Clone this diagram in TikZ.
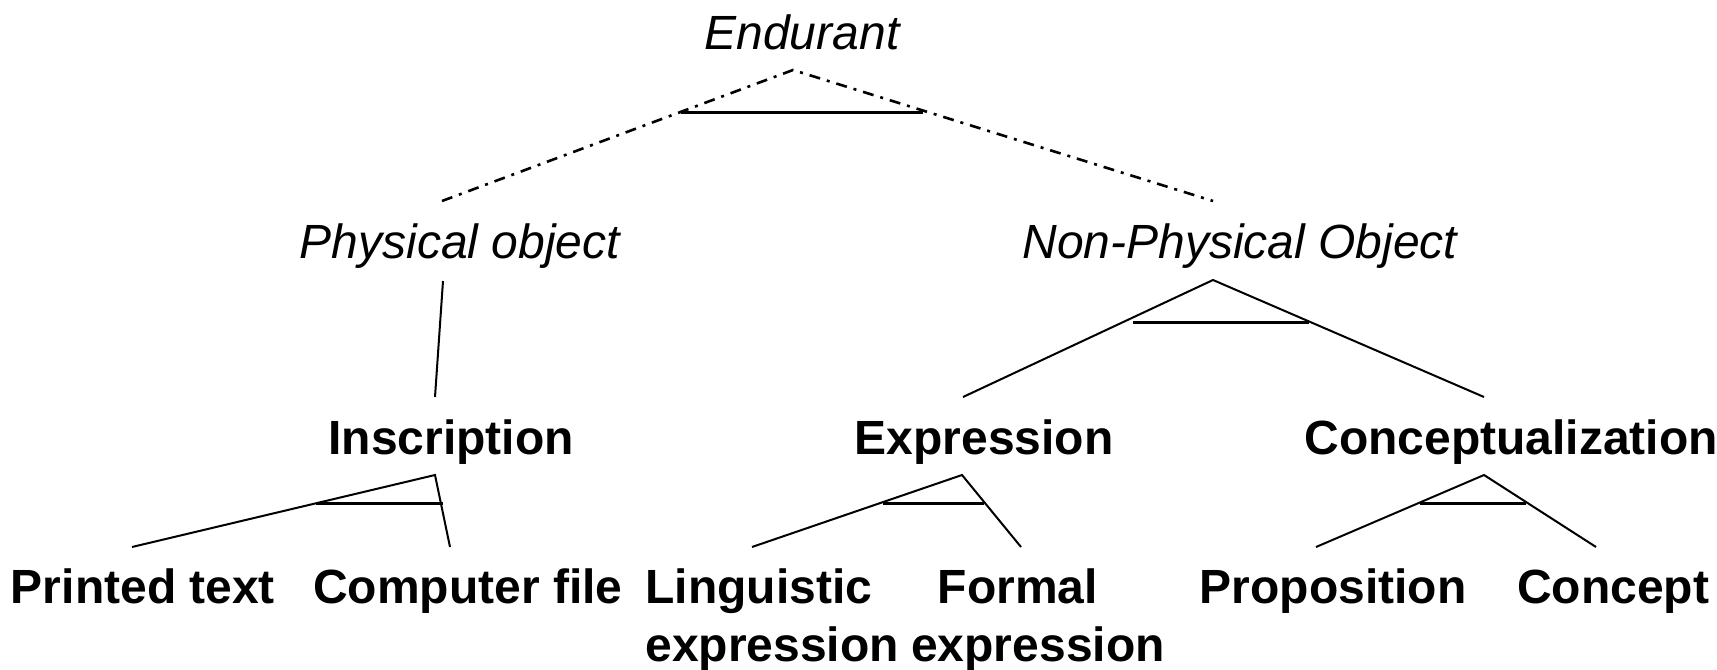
\documentclass[tikz,border=0pt]{standalone}
\usepackage{fontspec}
\setmainfont{Liberation Sans}
\begin{document}
\begin{tikzpicture}[x=0.5pt,y=-0.5pt,
  lbl/.style={inner sep=0pt, anchor=base},
  cls/.style={lbl, font=\fontsize{24}{29}\selectfont\itshape},
  sub/.style={lbl, font=\fontsize{24}{29}\selectfont\bfseries},
  link/.style={line width=1pt},
  dlink/.style={line width=1.3pt, dash pattern=on 5.5pt off 3.5pt on 1.5pt off 3.5pt},
  bar/.style={line width=1.5pt}]
\useasboundingbox (0,0) rectangle (1717,669);

% category labels
\node[cls] (endurant) at (802,49) {Endurant};
\node[cls] (physobj) at (460,258) {Physical object};
\node[cls] (nonphys) at (1240,258) {Non-Physical Object};

\node[sub] (inscr) at (451,454) {Inscription};
\node[sub] (expr) at (984,454) {Expression};
\node[sub] (concz) at (1511,454) {Conceptualization};

\node[sub] (printed) at (143,603) {Printed text};
\node[sub] (compfile) at (468,603) {Computer file};
% two-line labels: the base anchor sits on the last line
\node[sub, anchor=base west, align=left] (lingexpr) at (645,661) {Linguistic\\expression};
\node[sub, align=center] (formexpr) at (1038,661) {Formal\rule{20pt}{0pt}\\expression};
\node[sub] (prop) at (1333,603) {Proposition};
\node[sub] (concept) at (1613,603) {Concept};

% attachment points
\coordinate (e-top) at (793,70);
\coordinate (e-l) at (442,201);
\coordinate (e-r) at (1213,201);
\coordinate (e-bl) at (681,112);
\coordinate (e-br) at (923,112);

\coordinate (p-top) at (443,281);
\coordinate (p-bot) at (435,397);

\coordinate (n-top) at (1213,280);
\coordinate (n-l) at (963,397);
\coordinate (n-r) at (1484,397);
\coordinate (n-bl) at (1133,322);
\coordinate (n-br) at (1309,322);

\coordinate (i-top) at (435,475);
\coordinate (i-l) at (132,547);
\coordinate (i-r) at (450,547);
\coordinate (i-bl) at (316,503);
\coordinate (i-br) at (443,503);

\coordinate (x-top) at (962,475);
\coordinate (x-l) at (752,547);
\coordinate (x-r) at (1021,547);
\coordinate (x-bl) at (883,503);
\coordinate (x-br) at (984,503);

\coordinate (c-top) at (1484,475);
\coordinate (c-l) at (1316,547);
\coordinate (c-r) at (1596,547);
\coordinate (c-bl) at (1420,503);
\coordinate (c-br) at (1526,503);

% Endurant partition (dash-dotted)
\draw[dlink] (e-l) -- (e-top) -- (e-r);
\draw[bar] (e-bl) -- (e-br);

% Physical object -> Inscription
\draw[link] (p-top) -- (p-bot);

% Non-Physical Object partition
\draw[link] (n-l) -- (n-top) -- (n-r);
\draw[bar] (n-bl) -- (n-br);

% Inscription partition
\draw[link] (i-l) -- (i-top) -- (i-r);
\draw[bar] (i-bl) -- (i-br);

% Expression partition
\draw[link] (x-l) -- (x-top) -- (x-r);
\draw[bar] (x-bl) -- (x-br);

% Conceptualization partition
\draw[link] (c-l) -- (c-top) -- (c-r);
\draw[bar] (c-bl) -- (c-br);
\end{tikzpicture}
\end{document}
